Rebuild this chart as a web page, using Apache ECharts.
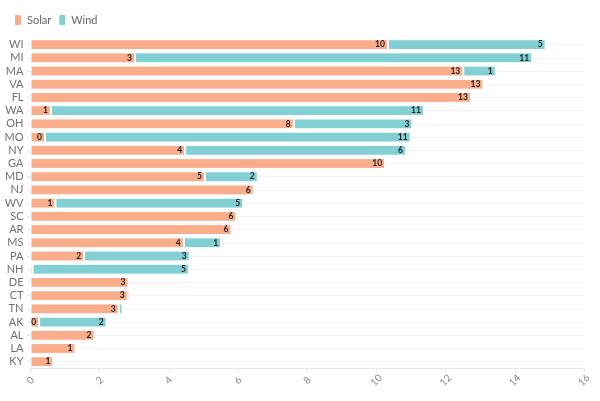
<!DOCTYPE html>
<html>
<head>
<meta charset="utf-8">
<script src="https://cdn.jsdelivr.net/npm/echarts@6/dist/echarts.min.js"></script>
<style>html,body{margin:0;padding:0;background:#fff;}#c{width:600px;height:401px;}</style>
</head>
<body>
<div id="c"></div>
<script>
var states = ['WI','MI','MA','VA','FL','WA','OH','MO','NY','GA','MD','NJ','WV','SC','AR','MS','PA','NH','DE','CT','TN','AK','AL','LA','KY'];
var solar = [10.33,3.02,12.51,13.09,12.73,0.59,7.61,0.42,4.47,10.25,5.04,6.45,0.72,5.95,5.81,4.43,1.55,0.06,2.83,2.81,2.55,0.25,1.85,1.30,0.66];
var wind  = [4.56,11.48,0.94,0.05,0,10.78,3.43,10.57,6.38,0,1.53,0.05,5.43,0,0,1.08,3.05,4.52,0.05,0.07,0.11,1.95,0,0,0];
var xTicks = {min:0, max:16, interval:2};

var chart = echarts.init(document.getElementById('c'));
function lbl(){
  return {
    show:true, position:'insideRight', distance:3,
    fontSize:8.5, fontWeight:'bold', color:'#222', fontFamily:'Lato',
    formatter:function(p){ return p.value < 0.2 ? '' : String(Math.round(p.value)); }
  };
}
chart.setOption({
  animation:false,
  textStyle:{fontFamily:'Lato'},
  legend:{
    left:8, top:8, icon:'roundRect', itemWidth:8, itemHeight:12, itemGap:6,
    textStyle:{color:'#666', fontSize:11, fontFamily:'Lato'},
    data:['Solar','Wind']
  },
  grid:{left:30.5, right:16, top:38, bottom:32.7},
  xAxis:{
    type:'value', min:xTicks.min, max:xTicks.max, interval:xTicks.interval,
    axisLine:{show:true, lineStyle:{color:'#e6e6e6'}},
    axisTick:{show:true, length:4, lineStyle:{color:'#e6e6e6'}},
    splitLine:{show:false},
    axisLabel:{rotate:45, align:'center', verticalAlign:'middle', margin:12, color:'#888', fontSize:10, fontFamily:'Lato'}
  },
  yAxis:{
    type:'category', data:states, inverse:true,
    axisLine:{show:false},
    axisTick:{show:true, alignWithLabel:true, interval:0, length:3, lineStyle:{color:'#e0e0e0'}},
    splitLine:{show:true, alignWithLabel:true, interval:0, lineStyle:{color:'#f2f2f2'}},
    axisLabel:{interval:0, color:'#707070', fontSize:11, margin:7, fontFamily:'Lato'}
  },
  series:[
    {name:'Solar', type:'bar', stack:'t', data:solar, barCategoryGap:'18%',
     itemStyle:{color:'#f9ad8a', borderColor:'#fff', borderWidth:1}, label:lbl()},
    {name:'Wind', type:'bar', stack:'t', data:wind, barCategoryGap:'18%',
     itemStyle:{color:'#82d0d3', borderColor:'#fff', borderWidth:1}, label:lbl()}
  ]
});
</script>
</body>
</html>
